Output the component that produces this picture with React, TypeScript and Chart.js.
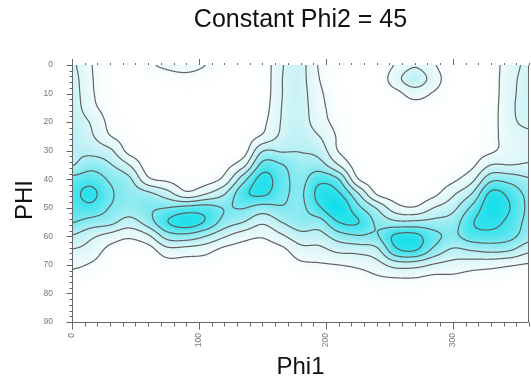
import React, { useEffect, useRef } from "react";
import { Chart, registerables } from "chart.js";

Chart.register(...registerables);

// ---- text ----
const chartTitle = "Constant Phi2 = 45";
const xTitle = "Phi1";
const yTitle = "PHI";

// ---- axes / ticks ----
const phi1Values = [0, 15, 30, 45, 60, 75, 90, 105, 120, 135, 150, 165, 180, 195, 210, 225, 240, 255, 270, 285, 300, 315, 330, 345, 360];
const phiValues = [0, 5, 10, 15, 20, 25, 30, 35, 40, 45, 50, 55, 60, 65, 70, 75, 80, 85, 90];
const xTickLabels = [0, 100, 200, 300];
const yTickLabels = [0, 10, 20, 30, 40, 50, 60, 70, 80, 90];
const contourLevels = [1, 2, 3, 4, 5];

// ---- density: one array per Phi1 column, values at Phi = 0..90 step 5 ----
const col000 = [2.2, 2.4, 2.5, 2.6, 2.7, 2.75, 2.85, 2.95, 4.3, 4.7, 4.5, 4.05, 2.9, 1.9, 1.2, 0.6, 0.3, 0.15, 0.1];
const col015 = [1.05, 1.1, 1.15, 1.3, 1.9, 2.15, 2.7, 3.6, 4.55, 5.25, 4.7, 3.6, 2.2, 1.55, 0.9, 0.5, 0.25, 0.15, 0.1];
const col030 = [0.5, 0.5, 0.55, 0.65, 0.75, 1.05, 2.2, 3.1, 3.85, 4.15, 3.95, 3.3, 1.6, 0.7, 0.45, 0.3, 0.2, 0.12, 0.1];
const col045 = [0.2, 0.25, 0.3, 0.35, 0.45, 0.6, 0.7, 2.0, 3.2, 3.6, 3.5, 2.6, 1.15, 0.5, 0.3, 0.2, 0.15, 0.1, 0.1];
const col060 = [0.85, 0.4, 0.2, 0.25, 0.3, 0.35, 0.45, 0.5, 1.2, 3.2, 3.85, 3.5, 1.8, 0.55, 0.3, 0.2, 0.15, 0.1, 0.1];
const col075 = [1.15, 0.6, 0.3, 0.2, 0.2, 0.22, 0.25, 0.35, 0.8, 2.4, 4.0, 4.95, 3.4, 1.6, 0.6, 0.3, 0.2, 0.12, 0.1];
const col090 = [1.3, 0.7, 0.4, 0.3, 0.25, 0.25, 0.3, 0.35, 0.5, 1.25, 4.3, 5.5, 3.6, 1.5, 0.6, 0.3, 0.2, 0.15, 0.1];
const col105 = [1.0, 0.55, 0.35, 0.25, 0.2, 0.2, 0.25, 0.3, 0.55, 1.9, 4.4, 4.9, 3.0, 1.3, 0.6, 0.35, 0.2, 0.15, 0.1];
const col120 = [0.5, 0.4, 0.3, 0.25, 0.25, 0.3, 0.4, 0.65, 1.3, 2.9, 3.95, 3.6, 2.1, 0.7, 0.35, 0.25, 0.15, 0.1, 0.1];
const col135 = [0.3, 0.3, 0.3, 0.35, 0.4, 0.5, 0.55, 1.7, 3.6, 4.7, 4.05, 3.0, 1.4, 0.5, 0.3, 0.2, 0.15, 0.1, 0.1];
const col150 = [0.3, 0.3, 0.35, 0.5, 0.75, 1.15, 2.9, 4.3, 5.35, 5.2, 3.6, 2.2, 1.1, 0.45, 0.3, 0.2, 0.15, 0.1, 0.1];
const col165 = [1.9, 1.95, 1.95, 2.0, 2.05, 2.2, 2.9, 4.05, 4.4, 4.3, 3.9, 3.0, 1.8, 0.7, 0.35, 0.2, 0.15, 0.1, 0.1];
const col180 = [2.3, 2.3, 2.35, 2.4, 2.45, 2.6, 2.95, 3.4, 3.7, 3.85, 3.75, 3.6, 2.6, 1.6, 0.8, 0.4, 0.2, 0.15, 0.1];
const col195 = [0.9, 1.0, 1.15, 1.25, 1.4, 2.0, 2.6, 3.4, 4.7, 5.3, 4.9, 3.6, 2.6, 1.7, 0.9, 0.45, 0.25, 0.15, 0.1];
const col210 = [0.55, 0.55, 0.6, 0.65, 0.7, 0.85, 0.95, 2.0, 4.0, 5.1, 5.8, 5.0, 3.5, 2.2, 1.0, 0.5, 0.25, 0.15, 0.1];
const col225 = [0.3, 0.3, 0.3, 0.3, 0.3, 0.3, 0.35, 0.5, 1.1, 3.1, 4.3, 5.05, 3.9, 2.3, 1.2, 0.5, 0.25, 0.15, 0.1];
const col240 = [0.25, 0.25, 0.25, 0.25, 0.25, 0.25, 0.28, 0.3, 0.45, 0.9, 2.9, 3.8, 3.9, 2.7, 1.6, 0.8, 0.35, 0.2, 0.1];
const col255 = [1.1, 1.6, 0.7, 0.4, 0.3, 0.3, 0.3, 0.3, 0.35, 0.5, 1.4, 3.2, 5.2, 4.7, 2.4, 0.9, 0.4, 0.2, 0.1];
const col270 = [1.9, 2.6, 1.4, 0.6, 0.35, 0.3, 0.3, 0.3, 0.3, 0.35, 1.1, 3.2, 5.3, 5.0, 2.4, 0.9, 0.4, 0.2, 0.1];
const col285 = [1.1, 1.5, 0.9, 0.45, 0.3, 0.3, 0.3, 0.35, 0.45, 0.75, 2.0, 3.3, 4.3, 3.7, 1.9, 0.7, 0.35, 0.2, 0.1];
const col300 = [0.35, 0.35, 0.35, 0.35, 0.35, 0.35, 0.4, 0.5, 0.8, 1.8, 2.7, 3.5, 3.8, 2.8, 1.6, 0.75, 0.35, 0.2, 0.1];
const col315 = [0.3, 0.3, 0.3, 0.3, 0.35, 0.4, 0.55, 0.8, 1.7, 3.0, 4.2, 4.9, 4.5, 3.0, 1.4, 0.6, 0.3, 0.2, 0.1];
const col330 = [0.5, 0.5, 0.5, 0.55, 0.6, 0.7, 0.85, 2.0, 3.7, 5.2, 5.6, 5.3, 4.6, 3.2, 1.3, 0.55, 0.3, 0.2, 0.1];
const col345 = [1.6, 1.7, 1.75, 1.8, 1.75, 1.5, 1.45, 2.0, 3.6, 4.7, 5.0, 4.7, 4.3, 3.0, 1.1, 0.5, 0.3, 0.2, 0.1];
const col360 = [2.2, 2.3, 2.3, 2.3, 2.2, 1.8, 1.8, 2.1, 3.1, 3.7, 3.8, 3.7, 3.4, 2.2, 0.9, 0.45, 0.25, 0.15, 0.1];

const columns = [
  col000, col015, col030, col045, col060, col075, col090, col105, col120,
  col135, col150, col165, col180, col195, col210, col225, col240, col255,
  col270, col285, col300, col315, col330, col345, col360,
];

// ---- interpolation of the read grid (Catmull-Rom) ----
const cr = (p0: number, p1: number, p2: number, p3: number, t: number) =>
  0.5 * (2 * p1 + (-p0 + p2) * t + (2 * p0 - 5 * p1 + 4 * p2 - p3) * t * t + (-p0 + 3 * p1 - 3 * p2 + p3) * t * t * t);

function sampleDensity(a: number, b: number): number {
  const nx = columns.length;
  const ny = phiValues.length;
  const dx = phi1Values[1] - phi1Values[0];
  const dy = phiValues[1] - phiValues[0];
  let gx = (a - phi1Values[0]) / dx;
  let gy = (b - phiValues[0]) / dy;
  gx = Math.min(Math.max(gx, 0), nx - 1);
  gy = Math.min(Math.max(gy, 0), ny - 1);
  let i = Math.floor(gx);
  if (i > nx - 2) i = nx - 2;
  let j = Math.floor(gy);
  if (j > ny - 2) j = ny - 2;
  const tx = gx - i;
  const ty = gy - j;
  const ci = (k: number) => Math.min(Math.max(k, 0), nx - 1);
  const cj = (k: number) => Math.min(Math.max(k, 0), ny - 1);
  const colAt = (k: number) => {
    const c = columns[ci(k)];
    return cr(c[cj(j - 1)], c[cj(j)], c[cj(j + 1)], c[cj(j + 2)], ty);
  };
  return cr(colAt(i - 1), colAt(i), colAt(i + 1), colAt(i + 2), tx);
}

const colorStops: [number, number[]][] = [
  [0.0, [255, 255, 255]],
  [0.6, [253, 255, 255]],
  [1.0, [240, 251, 252]],
  [2.0, [218, 246, 249]],
  [3.0, [178, 239, 244]],
  [4.0, [122, 232, 240]],
  [5.0, [55, 226, 236]],
  [6.0, [8, 222, 232]],
];

function colorFor(v: number): number[] {
  if (v <= colorStops[0][0]) return colorStops[0][1];
  for (let k = 1; k < colorStops.length; k++) {
    if (v <= colorStops[k][0]) {
      const [v0, c0] = colorStops[k - 1];
      const [v1, c1] = colorStops[k];
      const t = (v - v0) / (v1 - v0);
      return [c0[0] + (c1[0] - c0[0]) * t, c0[1] + (c1[1] - c0[1]) * t, c0[2] + (c1[2] - c0[2]) * t];
    }
  }
  return colorStops[colorStops.length - 1][1];
}

const FONT = '"Liberation Sans", Arial, sans-serif';

const contourPlugin = {
  id: "contourPlugin",
  beforeDatasetsDraw(chart: any) {
    const { ctx, chartArea: ca, scales } = chart;
    const xs = scales.x;
    const ys = scales.y;
    const w = Math.round(ca.right - ca.left);
    const h = Math.round(ca.bottom - ca.top);
    // fill
    const off = document.createElement("canvas");
    off.width = w;
    off.height = h;
    const octx = off.getContext("2d")!;
    const img = octx.createImageData(w, h);
    for (let py = 0; py < h; py++) {
      const b = ys.getValueForPixel(ca.top + py + 0.5);
      for (let px = 0; px < w; px++) {
        const a = xs.getValueForPixel(ca.left + px + 0.5);
        const c = colorFor(sampleDensity(a, b));
        const o = (py * w + px) * 4;
        img.data[o] = c[0];
        img.data[o + 1] = c[1];
        img.data[o + 2] = c[2];
        img.data[o + 3] = 255;
      }
    }
    octx.putImageData(img, 0, 0);
    ctx.drawImage(off, ca.left, ca.top);

    // contour lines (marching squares on a fine data grid)
    const aMin = phi1Values[0];
    const aMax = phi1Values[phi1Values.length - 1];
    const bMin = phiValues[0];
    const bMax = phiValues[phiValues.length - 1];
    const sa = 0.5;
    const sb = 0.25;
    const na = Math.round((aMax - aMin) / sa) + 1;
    const nb = Math.round((bMax - bMin) / sb) + 1;
    const f = new Float32Array(na * nb);
    for (let jb = 0; jb < nb; jb++) {
      for (let ia = 0; ia < na; ia++) {
        f[jb * na + ia] = sampleDensity(aMin + ia * sa, bMin + jb * sb);
      }
    }
    ctx.save();
    ctx.beginPath();
    ctx.rect(ca.left, ca.top, ca.right - ca.left, ca.bottom - ca.top);
    ctx.clip();
    ctx.strokeStyle = "rgba(90,90,90,0.95)";
    ctx.lineWidth = 1.2;
    ctx.lineCap = "round";
    ctx.lineJoin = "round";
    const P = (a: number, b: number) => [xs.getPixelForValue(a), ys.getPixelForValue(b)];
    for (const L of contourLevels) {
      ctx.beginPath();
      for (let jb = 0; jb < nb - 1; jb++) {
        const b0 = bMin + jb * sb;
        const b1 = b0 + sb;
        for (let ia = 0; ia < na - 1; ia++) {
          const a0 = aMin + ia * sa;
          const a1 = a0 + sa;
          const v00 = f[jb * na + ia];
          const v10 = f[jb * na + ia + 1];
          const v11 = f[(jb + 1) * na + ia + 1];
          const v01 = f[(jb + 1) * na + ia];
          const idx = (v00 >= L ? 1 : 0) | (v10 >= L ? 2 : 0) | (v11 >= L ? 4 : 0) | (v01 >= L ? 8 : 0);
          if (idx === 0 || idx === 15) continue;
          const e = (k: number) => {
            if (k === 0) return P(a0 + ((L - v00) / (v10 - v00)) * sa, b0);
            if (k === 1) return P(a1, b0 + ((L - v10) / (v11 - v10)) * sb);
            if (k === 2) return P(a0 + ((L - v01) / (v11 - v01)) * sa, b1);
            return P(a0, b0 + ((L - v00) / (v01 - v00)) * sb);
          };
          const seg = (p: number, q: number) => {
            const A = e(p);
            const B = e(q);
            ctx.moveTo(A[0], A[1]);
            ctx.lineTo(B[0], B[1]);
          };
          const center = (v00 + v10 + v11 + v01) / 4;
          switch (idx) {
            case 1: case 14: seg(3, 0); break;
            case 2: case 13: seg(0, 1); break;
            case 3: case 12: seg(3, 1); break;
            case 4: case 11: seg(1, 2); break;
            case 6: case 9: seg(0, 2); break;
            case 7: case 8: seg(2, 3); break;
            case 5:
              if (center >= L) { seg(0, 1); seg(2, 3); } else { seg(3, 0); seg(1, 2); }
              break;
            case 10:
              if (center >= L) { seg(3, 0); seg(1, 2); } else { seg(0, 1); seg(2, 3); }
              break;
          }
        }
      }
      ctx.stroke();
    }
    ctx.restore();
  },
  afterDraw(chart: any) {
    const { ctx, chartArea: ca, scales } = chart;
    const xs = scales.x;
    const ys = scales.y;
    ctx.save();
    ctx.strokeStyle = "#666";
    ctx.lineWidth = 1;
    const line = (x1: number, y1: number, x2: number, y2: number) => {
      ctx.beginPath();
      ctx.moveTo(x1, y1);
      ctx.lineTo(x2, y2);
      ctx.stroke();
    };
    const L = Math.round(ca.left) + 0.5;
    const R = Math.round(ca.right) - 0.5;
    const B = Math.round(ca.bottom) + 0.5;
    const T = Math.round(ca.top);
    line(L, T, L, B);
    line(L, B, R, B);
    line(R, T, R, B);
    // y ticks
    for (let v = 0; v <= 90; v += 2) {
      const p = Math.round(ys.getPixelForValue(v)) + 0.5;
      const len = v % 10 === 0 ? 6 : 3;
      line(L - len, p, L, p);
    }
    // x ticks bottom and top
    for (let v = 0; v <= 360; v += 10) {
      const p = Math.round(xs.getPixelForValue(v)) + 0.5;
      const major = v % 100 === 0;
      line(p, B, p, B + (major ? 7 : 4));
      line(p, T, p, T - (major ? 6 : 2));
    }
    // titles
    ctx.fillStyle = "#111";
    ctx.textAlign = "center";
    ctx.textBaseline = "alphabetic";
    ctx.font = `25px ${FONT}`;
    ctx.fillText(chartTitle, (ca.left + ca.right) / 2, 27);
    ctx.font = `24px ${FONT}`;
    ctx.fillText(xTitle, (ca.left + ca.right) / 2, 374);
    ctx.translate(32, 200);
    ctx.rotate(-Math.PI / 2);
    ctx.fillText(yTitle, 0, 0);
    ctx.restore();
  },
};

export default function App() {
  const ref = useRef<HTMLCanvasElement>(null);
  useEffect(() => {
    if (!ref.current) return;
    const points: { x: number; y: number }[] = [];
    phi1Values.forEach((a) => phiValues.forEach((b) => points.push({ x: a, y: b })));
    const chart = new Chart(ref.current, {
      type: "scatter",
      data: {
        datasets: [
          {
            label: "grid",
            data: points,
            pointRadius: 0,
            showLine: false,
          },
        ],
      },
      options: {
        animation: false,
        responsive: false,
        devicePixelRatio: 1,
        layout: { padding: { top: 65, right: 2, left: 0, bottom: 0 } },
        plugins: {
          legend: { display: false },
          tooltip: { enabled: false },
          title: { display: false },
        },
        scales: {
          x: {
            type: "linear",
            position: "bottom",
            min: 0,
            max: 360,
            grid: { display: false, drawTicks: false },
            border: { display: false },
            ticks: {
              stepSize: 100,
              autoSkip: false,
              minRotation: 90,
              maxRotation: 90,
              padding: 11,
              color: "#777",
              font: { size: 8.5, family: FONT },
              callback: (v: any) => (xTickLabels.includes(Number(v)) ? String(v) : ""),
            },
            afterFit: (s: any) => {
              s.height = 58;
              s.paddingLeft = 0;
              s.paddingRight = 0;
            },
          },
          y: {
            type: "linear",
            min: 0,
            max: 90,
            reverse: true,
            grid: { display: false, drawTicks: false },
            border: { display: false },
            ticks: {
              stepSize: 10,
              autoSkip: false,
              padding: 19,
              color: "#777",
              font: { size: 8.5, family: FONT },
              callback: (v: any) => (yTickLabels.includes(Number(v)) ? String(v) : ""),
            },
            afterFit: (s: any) => {
              s.width = 72;
              s.paddingTop = 0;
              s.paddingBottom = 0;
            },
          },
        },
      },
      plugins: [contourPlugin],
    } as any);
    return () => chart.destroy();
  }, []);
  return (
    <canvas
      ref={ref}
      width={531}
      height={380}
      style={{ position: "fixed", left: 0, top: 0, width: 531, height: 380, display: "block" }}
    />
  );
}
